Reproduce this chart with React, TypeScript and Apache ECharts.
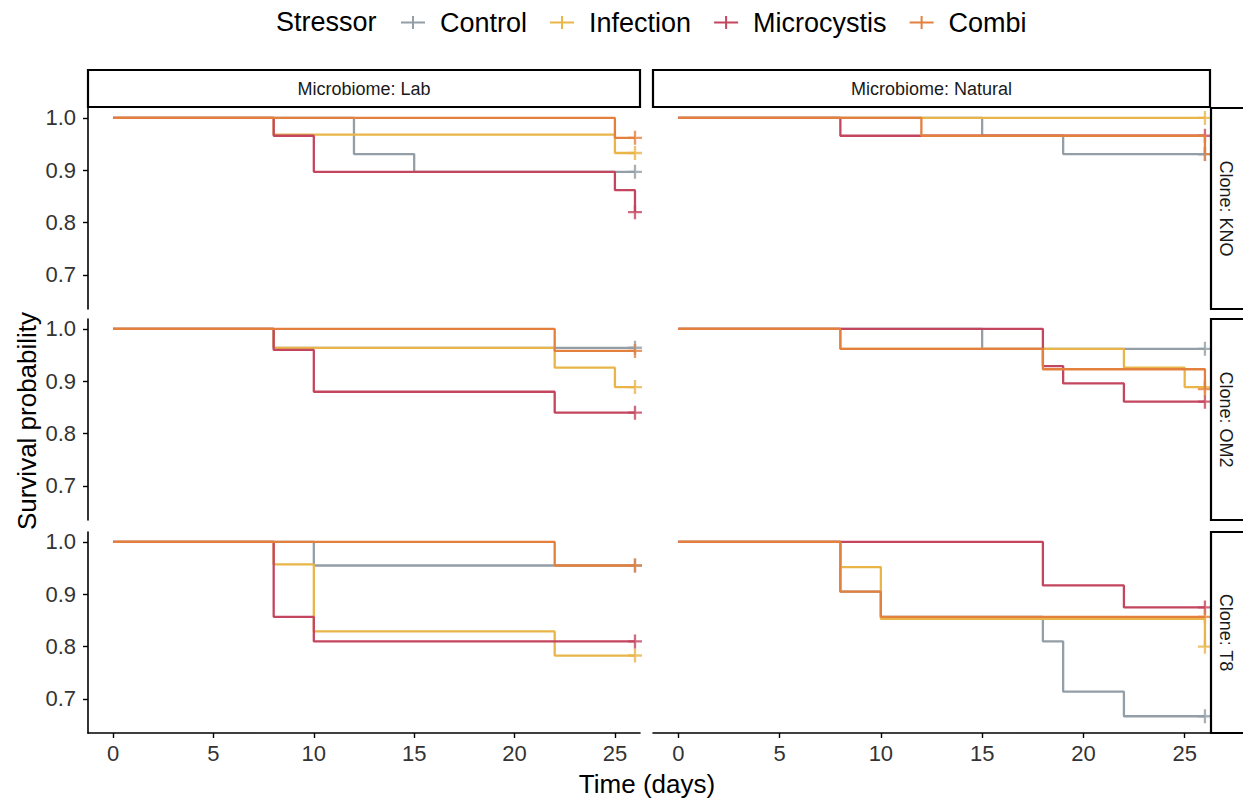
import { useEffect, useRef } from "react";
import * as echarts from "echarts";

const FONT = '"Liberation Sans", Arial, Helvetica, sans-serif';

const stressors = ["Control", "Infection", "Microcystis", "Combi"];
const stressorColors = ["#939EA6", "#E9B548", "#C4455E", "#E3803D"];
const microbiomes = ["Lab", "Natural"];
const clones = ["KNO", "OM2", "T8"];
const dayTicks = [0, 5, 10, 15, 20, 25];
const survivalTicks = [0.7, 0.8, 0.9, 1.0];

// Kaplan–Meier curves, one per stressor (Control, Infection, Microcystis, Combi).
// Each point is [day, survival] at an event; the last point is the censoring at day 26.
const knoLab = [
  [[0, 1], [12, 0.931], [15, 0.897], [26, 0.897]],
  [[0, 1], [8, 0.968], [25, 0.933], [26, 0.933]],
  [[0, 1], [8, 0.966], [10, 0.897], [25, 0.862], [26, 0.82]],
  [[0, 1], [25, 0.962], [26, 0.962]],
];
const knoNatural = [
  [[0, 1], [15, 0.966], [19, 0.931], [26, 0.931]],
  [[0, 1], [26, 1]],
  [[0, 1], [8, 0.966], [26, 0.966]],
  [[0, 1], [12, 0.966], [26, 0.931]],
];
const om2Lab = [
  [[0, 1], [8, 0.964], [26, 0.964]],
  [[0, 1], [8, 0.964], [22, 0.926], [25, 0.889], [26, 0.889]],
  [[0, 1], [8, 0.96], [10, 0.88], [22, 0.84], [26, 0.84]],
  [[0, 1], [22, 0.958], [26, 0.958]],
];
const om2Natural = [
  [[0, 1], [15, 0.962], [26, 0.962]],
  [[0, 1], [8, 0.962], [22, 0.926], [25, 0.889], [26, 0.889]],
  [[0, 1], [18, 0.929], [19, 0.896], [22, 0.861], [26, 0.861]],
  [[0, 1], [8, 0.962], [18, 0.923], [26, 0.885]],
];
const t8Lab = [
  [[0, 1], [10, 0.955], [26, 0.955]],
  [[0, 1], [8, 0.957], [10, 0.829], [22, 0.783], [26, 0.783]],
  [[0, 1], [8, 0.857], [10, 0.81], [26, 0.81]],
  [[0, 1], [22, 0.955], [26, 0.955]],
];
const t8Natural = [
  [[0, 1], [8, 0.905], [10, 0.857], [18, 0.81], [19, 0.714], [22, 0.667], [26, 0.667]],
  [[0, 1], [8, 0.952], [10, 0.853], [26, 0.8]],
  [[0, 1], [18, 0.917], [22, 0.875], [26, 0.875]],
  [[0, 1], [8, 0.905], [10, 0.857], [26, 0.857]],
];

const facets = [
  [knoLab, knoNatural],
  [om2Lab, om2Natural],
  [t8Lab, t8Natural],
];

// panel layout (pixels)
const colLeft = [88, 653];
const colWidth = [552, 557];
const rowTop = [108, 319, 532];
const rowHeight = 201;
const X_MIN = -1.25;
const X_MAX = 26.25;
const Y_MIN = 0.635;
const Y_MAX = 1.019;

const plusMark = "path://M5,0H7V5H12V7H7V12H5V7H0V5H5Z";
const legendKey = "path://M0,5.5H24V7.5H0Z M11,0H13V13H11Z";

function buildOption() {
  const grid: any[] = [];
  const xAxis: any[] = [];
  const yAxis: any[] = [];
  const series: any[] = [];
  const graphic: any[] = [];

  const axisLineStyle = { color: "#000", width: 1.6 };

  for (let r = 0; r < clones.length; r++) {
    for (let c = 0; c < microbiomes.length; c++) {
      const idx = r * 2 + c;
      const isBottom = r === clones.length - 1;
      const isLeft = c === 0;
      grid.push({ left: colLeft[c], top: rowTop[r], width: colWidth[c], height: rowHeight });
      xAxis.push({
        type: "value",
        gridIndex: idx,
        min: X_MIN,
        max: X_MAX,
        axisLine: { show: isBottom, onZero: false, lineStyle: axisLineStyle },
        axisTick: { show: isBottom, customValues: dayTicks, length: 5, lineStyle: { color: "#000", width: 1.4 } },
        axisLabel: {
          show: isBottom,
          customValues: dayTicks,
          fontSize: 22,
          color: "#333",
          fontFamily: FONT,
          margin: 9,
        },
        splitLine: { show: false },
      });
      yAxis.push({
        type: "value",
        gridIndex: idx,
        min: Y_MIN,
        max: Y_MAX,
        axisLine: { show: isLeft, onZero: false, lineStyle: axisLineStyle },
        axisTick: { show: isLeft, customValues: survivalTicks, length: 5, lineStyle: { color: "#000", width: 1.4 } },
        axisLabel: {
          show: isLeft,
          customValues: survivalTicks,
          formatter: (v: number) => v.toFixed(1),
          fontSize: 22,
          color: "#333",
          fontFamily: FONT,
          margin: 12,
        },
        splitLine: { show: false },
      });

      const curves = facets[r][c];
      curves.forEach((pts, s) => {
        series.push({
          type: "line",
          name: stressors[s],
          xAxisIndex: idx,
          yAxisIndex: idx,
          data: pts,
          step: "end",
          symbol: "none",
          showSymbol: false,
          lineStyle: { color: stressorColors[s], width: 2.3 },
          itemStyle: { color: stressorColors[s] },
          silent: true,
        });
      });
      curves.forEach((pts, s) => {
        series.push({
          type: "scatter",
          name: stressors[s],
          xAxisIndex: idx,
          yAxisIndex: idx,
          data: [pts[pts.length - 1]],
          symbol: plusMark,
          symbolSize: 14,
          itemStyle: { color: stressorColors[s] },
          silent: true,
        });
      });
    }
  }

  // facet strips: microbiome across the top
  microbiomes.forEach((m, c) => {
    graphic.push({
      type: "rect",
      z: 10,
      shape: { x: colLeft[c], y: 70, width: colWidth[c], height: 37 },
      style: { fill: "#fff", stroke: "#000", lineWidth: 2.2 },
    });
    graphic.push({
      type: "text",
      z: 11,
      x: colLeft[c] + colWidth[c] / 2,
      y: 89,
      style: {
        text: `Microbiome: ${m}`,
        fontSize: 18,
        fontFamily: FONT,
        fill: "#1a1a1a",
        align: "center",
        verticalAlign: "middle",
      },
    });
  });

  // facet strips: clone down the right side
  clones.forEach((cl, r) => {
    graphic.push({
      type: "rect",
      z: 10,
      shape: { x: 1211, y: rowTop[r], width: 45, height: rowHeight },
      style: { fill: "#fff", stroke: "#000", lineWidth: 2.2 },
    });
    graphic.push({
      type: "text",
      z: 11,
      x: 1226,
      y: rowTop[r] + rowHeight / 2,
      rotation: -Math.PI / 2,
      style: {
        text: `Clone: ${cl}`,
        fontSize: 18,
        fontFamily: FONT,
        fill: "#1a1a1a",
        align: "center",
        verticalAlign: "middle",
      },
    });
  });

  // axis titles and legend title
  graphic.push({
    type: "text",
    x: 647,
    y: 784,
    style: {
      text: "Time (days)",
      fontSize: 26,
      fontFamily: FONT,
      fill: "#000",
      align: "center",
      verticalAlign: "middle",
    },
  });
  graphic.push({
    type: "text",
    x: 27,
    y: 421,
    rotation: Math.PI / 2,
    style: {
      text: "Survival probability",
      fontSize: 26,
      fontFamily: FONT,
      fill: "#000",
      align: "center",
      verticalAlign: "middle",
    },
  });
  graphic.push({
    type: "text",
    x: 276,
    y: 22,
    style: {
      text: "Stressor",
      fontSize: 27,
      fontFamily: FONT,
      fill: "#000",
      align: "left",
      verticalAlign: "middle",
    },
  });

  return {
    animation: false,
    backgroundColor: "#fff",
    grid,
    xAxis,
    yAxis,
    series,
    graphic,
    legend: {
      data: stressors,
      left: 396,
      top: 4,
      icon: legendKey,
      itemWidth: 24,
      itemHeight: 13,
      itemGap: 23,
      selectedMode: false,
      textStyle: {
        fontSize: 27,
        fontFamily: FONT,
        color: "#000",
        padding: [0, 0, 0, 10],
      },
    },
  };
}

export default function App() {
  const ref = useRef<HTMLDivElement>(null);
  useEffect(() => {
    if (!ref.current) return;
    const chart = echarts.init(ref.current, null, { renderer: "svg" });
    chart.setOption(buildOption());
    return () => chart.dispose();
  }, []);
  return (
    <div
      ref={ref}
      style={{ position: "fixed", left: 0, top: 0, width: 1243, height: 801, background: "#fff" }}
    />
  );
}
